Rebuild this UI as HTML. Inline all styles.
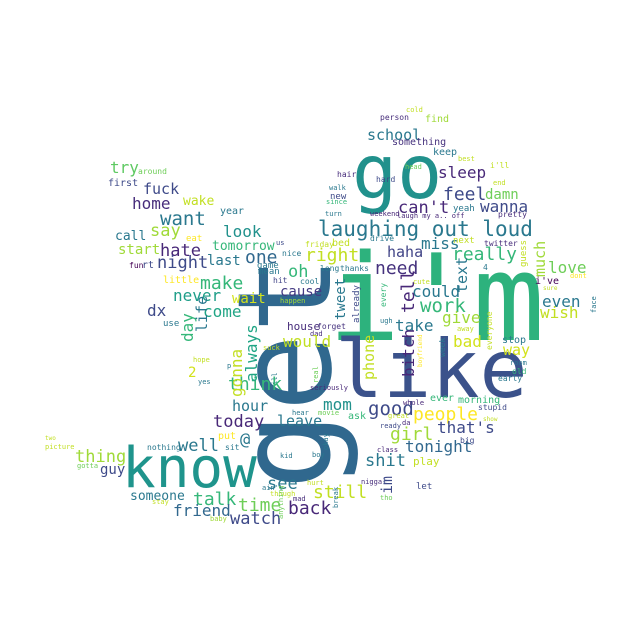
<!DOCTYPE html>
<html>
<head>
<meta charset="utf-8">
<style>
html,body{margin:0;padding:0;background:#fff;}
svg{display:block;}
text{font-family:"DejaVu Sans Mono","Liberation Mono",monospace;}
</style>
</head>
<body>
<svg id="cloud" width="626" height="626" viewBox="0 0 626 626" xmlns="http://www.w3.org/2000/svg">
<rect width="626" height="626" fill="#ffffff"/>
</svg>
<script>
// [word, fontSize, x, y, color, rotation]
const words = ["get","i'm","like","go","know","laughing out loud","want","fuck","try","home","wake","say","look","call","tomorrow","start","hate","night","last","one","eat","year","first","around","make","never","wait","come","dx","oh","cause","little","fun","rt","game","mean","hit","cool","happen","nice","us","friday","school","something","person","cold","find","keep","best","head","sleep","hair","hard","feel","damn","end","walk","new","since","turn","weekend","can't","yeah","wanna","laugh my a.. off","pretty","miss","next","twitter","drive","bed","haha","really","thanks","long","need","4","could","work","cute","give","tell","text","much","guess","love","dont","i've","sure","even","wish","face","stop","way","room","old","early","house","forget","dad","would","bad","take","tweet","already","every","ugh","phone","bitch","week","boyfriend","everyone","away","mom","good","people","that's","girl","tonight","shit","play","im","still","see","back","time","watch","talk","friend","someone","thing","guy","well","@","nothing","today","hour","leave","put","sit","kid","boy","okay","class","big","ready","da","great","ask","whole","ever","morning","stupid","show","hear","movie","seriously","real","ill","suck","hurt","nigga","mad","tho","let","break","though","ain't","anything","baby","stay","gotta","picture","two","yes","hope","2","p","think","gonna","always","day","life","use","right","i'll"];
const sizes = [130,120,80,75,56,21,19,15,16,16,13,17,16,13,13,14,17,17,14,18,9,10,10,8,18,16,14,16,16,17,14,10,8,10,9,9,8,8,7,8,7,8,15,10,8,7,10,10,7,7,16,8,8,18,14,7,7,9,7,7,7,17,9,16,7,8,16,9,8,8,10,15,18,8,8,18,8,16,19,7,16,18,15,15,9,16,7,10,6,16,16,7,10,15,7,8,8,11,8,7,16,16,16,14,9,8,7,15,16,8,6,8,7,16,19,18,16,18,16,17,11,15,18,17,18,18,17,18,16,13,17,14,17,17,8,17,15,15,10,8,7,7,7,7,8,7,7,7,10,7,10,10,8,6,7,7,7,7,7,7,7,7,7,7,9,7,7,7,7,7,7,7,7,6,7,7,14,7,18,16,16,16,15,9,18,8];
const xs = [330,328,335,352,122,318,160,143,110,132,183,150,223,115,212,118,160,157,207,245,186,220,108,138,200,173,232,203,147,288,280,163,129,142,257,258,273,300,280,282,276,305,367,392,380,406,425,433,458,405,438,337,376,443,485,493,329,330,326,325,370,398,453,480,397,498,421,453,484,370,332,387,452,340,320,375,483,412,420,413,442,414,467,545,526,548,570,535,543,542,540,596,502,503,510,512,498,287,317,310,283,453,395,345,359,386,380,374,414,445,422,492,457,323,368,413,437,390,405,365,413,392,313,267,288,238,230,193,173,130,75,100,178,240,147,213,232,277,218,225,280,312,328,377,460,380,402,388,348,403,430,458,478,483,292,318,310,318,277,263,307,361,293,380,416,338,270,262,283,210,152,77,45,45,198,193,188,227,228,242,257,193,207,163,305,490];
const ys = [490,340,397,198,487,236,225,194,173,209,205,236,237,240,250,254,256,268,265,263,241,214,186,174,289,301,303,317,316,277,296,283,268,268,268,274,283,284,303,256,245,247,140,145,120,112,122,155,161,169,178,177,182,200,199,185,190,199,204,216,216,213,211,212,218,217,249,243,246,241,246,257,260,271,271,274,270,297,312,284,323,313,293,277,267,273,278,284,290,307,318,313,343,355,365,374,381,330,329,336,347,347,331,320,323,307,323,380,377,357,367,350,331,410,415,420,433,440,452,466,465,494,498,489,514,511,524,505,516,500,462,474,451,445,450,427,411,426,439,450,458,457,450,452,443,428,425,418,419,405,401,403,410,421,415,415,390,383,385,350,485,484,501,500,489,508,496,490,519,521,504,468,449,440,384,362,377,368,390,397,382,342,332,326,261,168];
const colors = ["#30688e","#2db27d","#3b528b","#21918c","#1f948c","#2a788e","#2a788e","#3e4a89","#5ec962","#472d7b","#c2df23","#a0da39","#21918c","#2a788e","#35b779","#a0da39","#482878","#3e4a89","#2a788e","#31688e","#fde725","#2a788e","#3e4a89","#6ece58","#35b779","#1f9e89","#d2e21b","#21a585","#3e4a89","#35b779","#443a83","#fde725","#440154","#3e4a89","#2a788e","#2a788e","#414487","#2a788e","#a0da39","#2a788e","#3e4a89","#c2df23","#2a788e","#46327e","#472d7b","#c2df23","#a0da39","#2a788e","#c2df23","#6ece58","#482878","#472d7b","#3e4a89","#3e4a89","#6ece58","#c2df23","#2a788e","#3e4a89","#35b779","#2a788e","#482878","#482878","#2a788e","#3e4a89","#482878","#472d7b","#2a788e","#c2df23","#472d7b","#2a788e","#c2df23","#414487","#35b779","#2a788e","#2a788e","#46327e","#2a788e","#2a788e","#35b779","#c2df23","#a0da39","#482878","#2a788e","#a0da39","#c2df23","#6ece58","#fde725","#440154","#c2df23","#2a788e","#c2df23","#2a788e","#2a788e","#d2e21b","#2a788e","#35b779","#2a788e","#472d7b","#46327e","#472d7b","#c2df23","#d2e21b","#2a788e","#2a788e","#3e4a89","#35b779","#2a788e","#c2df23","#482878","#2a788e","#fde725","#c2df23","#c2df23","#21918c","#3e4a89","#fde725","#3e4a89","#a0da39","#31688e","#2a788e","#c2df23","#3e4a89","#c2df23","#2a788e","#482878","#6ece58","#3e4a89","#35b779","#31688e","#2a788e","#a0da39","#3e4a89","#2a788e","#2a788e","#2a788e","#482878","#2a788e","#2a788e","#fde725","#2a788e","#2a788e","#2a788e","#2a788e","#482878","#3e4a89","#3e4a89","#482878","#c2df23","#35b779","#482878","#35b779","#35b779","#3e4a89","#c2df23","#2a788e","#6ece58","#482878","#6ece58","#2a788e","#c2df23","#c2df23","#472d7b","#472d7b","#6ece58","#3e4a89","#2a788e","#c2df23","#2a788e","#6ece58","#a0da39","#c2df23","#6ece58","#c2df23","#c2df23","#2a788e","#c2df23","#d2e21b","#2a788e","#35b779","#c2df23","#21a585","#35b779","#2a788e","#2a788e","#c2df23","#c2df23"];
const rots = [-90,0,0,0,0,0,0,0,0,0,0,0,0,0,0,0,0,0,0,0,0,0,0,0,0,0,0,0,0,0,0,0,0,0,0,0,0,0,0,0,0,0,0,0,0,0,0,0,0,0,0,0,0,0,0,0,0,0,0,0,0,0,0,0,0,0,0,0,0,0,0,0,0,0,0,0,0,0,0,0,0,-90,-90,-90,-90,0,0,0,0,0,0,-90,0,0,0,0,0,0,0,0,0,0,0,-90,-90,-90,0,-90,-90,-90,-90,-90,0,0,0,0,0,0,0,0,0,-90,0,0,0,0,0,0,0,0,0,0,0,0,0,0,0,0,0,0,0,0,-90,0,0,0,0,0,0,0,0,0,0,0,0,0,0,-90,-90,0,0,0,0,0,0,-90,0,0,-90,0,0,0,0,0,0,0,0,0,0,-90,-90,-90,-90,0,0,0,90];

const svg = document.getElementById('cloud');
const NS = 'http://www.w3.org/2000/svg';
for (let i = 0; i < words.length; i++) {
  const t = document.createElementNS(NS, 'text');
  t.setAttribute('x', xs[i]);
  t.setAttribute('y', ys[i]);
  t.setAttribute('font-size', sizes[i]);
  t.setAttribute('fill', colors[i]);
  if (rots[i]) t.setAttribute('transform', 'rotate(' + rots[i] + ' ' + xs[i] + ' ' + ys[i] + ')');
  t.textContent = words[i];
  
  
  svg.appendChild(t);
}
</script>
</body>
</html>
